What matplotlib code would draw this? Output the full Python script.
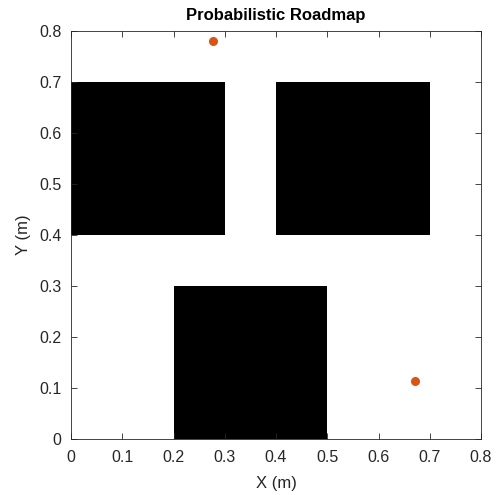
import matplotlib
matplotlib.use('Agg')
import matplotlib.pyplot as plt
from matplotlib.patches import Rectangle

# obstacles: (x, y, width, height)
obs_x = [0.0, 0.4, 0.2]
obs_y = [0.4, 0.4, 0.0]
obs_w = [0.3, 0.3, 0.3]
obs_h = [0.3, 0.3, 0.3]

# start / goal points
pts_x = [0.277, 0.671]
pts_y = [0.781, 0.113]

plt.rcParams['font.family'] = ['Liberation Sans', 'DejaVu Sans']

fig = plt.figure(figsize=(4.97, 4.95), dpi=100)
ax = fig.add_axes([0.1429, 0.1131, 0.8249, 0.8243])

for x, y, w, h in zip(obs_x, obs_y, obs_w, obs_h):
    ax.add_patch(Rectangle((x, y), w, h, facecolor='black', edgecolor='none'))

ax.plot(pts_x, pts_y, 'o', color='#D95319', markersize=6.5, markeredgewidth=0)

ax.set_xlim(0, 0.8)
ax.set_ylim(0, 0.8)
ax.set_xticks([0, 0.1, 0.2, 0.3, 0.4, 0.5, 0.6, 0.7, 0.8])
ax.set_yticks([0, 0.1, 0.2, 0.3, 0.4, 0.5, 0.6, 0.7, 0.8])
ax.set_xticklabels(['0', '0.1', '0.2', '0.3', '0.4', '0.5', '0.6', '0.7', '0.8'])
ax.set_yticklabels(['0', '0.1', '0.2', '0.3', '0.4', '0.5', '0.6', '0.7', '0.8'])
ax.tick_params(direction='in', top=True, right=True, length=4, width=0.6,
               colors='#262626', labelsize=11.5, labelcolor='#262626')
ax.tick_params(axis='x', pad=8)
ax.tick_params(axis='y', pad=7)
for s in ax.spines.values():
    s.set_color('#262626')
    s.set_linewidth(0.6)

ax.set_xlabel('X (m)', fontsize=12, color='#262626', labelpad=8)
ax.set_ylabel('Y (m)', fontsize=12, color='#262626', labelpad=6)
ax.set_title('Probabilistic Roadmap', fontsize=12, fontweight='bold', pad=8)

fig.savefig('out.png', dpi=100)
